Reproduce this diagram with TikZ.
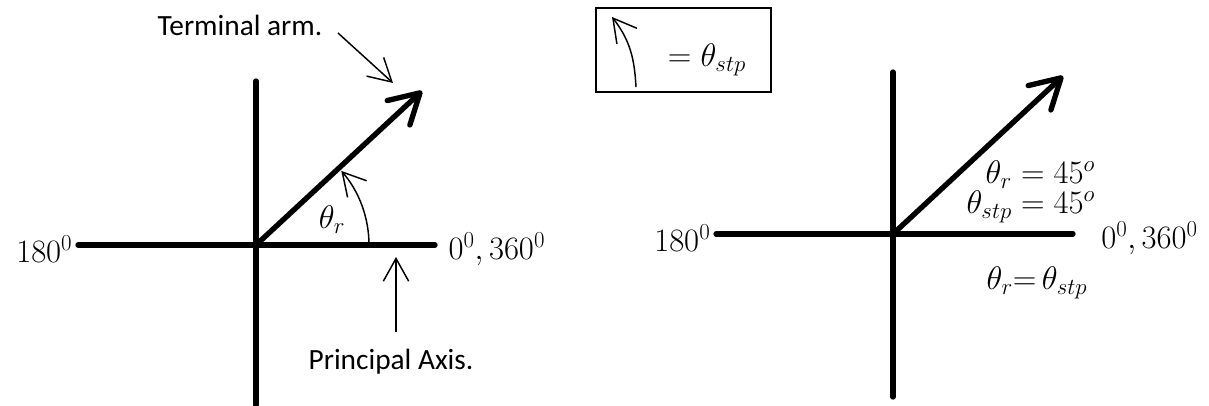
\RequirePackage{fix-cm}
\documentclass[tikz,border=0pt]{standalone}
\usepackage{amsmath, amssymb}
\usepackage[no-math]{fontspec}
\setmainfont{Carlito}
\usepackage{tikz}
\usepackage{xcolor}
\usetikzlibrary{arrows.meta, positioning, calc}

\begin{document}
\begin{tikzpicture}[x=75pt, y=75pt,
            axis/.style={line width=4pt, line cap=round},
            arm/.style={line width=4pt, line cap=round, -{Straight Barb[length=22pt, width=25pt, round]}},
            ptr/.style={line width=1.1pt, -{Straight Barb[length=17pt, width=19pt]}},
            lbl/.style={font=\fontsize{22}{26}\selectfont, inner sep=2pt},
            mlbl/.style={font=\fontsize{24.5}{28}\selectfont, inner sep=2pt}]
            \useasboundingbox (-2.56,-1.60) rectangle (9.53,2.45);
            % left diagram
            \coordinate (O1) at (0,0);
            \coordinate (W1) at (-1.78,0);
            \coordinate (E1) at (1.79,0);
            \coordinate (N1) at (0,1.64);
            \coordinate (S1) at (0,-1.60);
            \coordinate (T1) at (1.66,1.54);
            \draw[axis] (W1) -- (E1);
            \draw[axis] (N1) -- (S1);
            \draw[arm] (O1) -- (T1);
            \draw[ptr] ([shift={(0:1.13)}]O1) arc[start angle=0, end angle=41, radius=1.13];
            \node[mlbl] (thr1) at (0.76,0.25) {$\theta_r$};
            \node[mlbl, left=2pt of W1, yshift=-3pt] (deg180a) {$180^0$};
            \node[mlbl, right=8pt of E1, yshift=-3pt] (deg360a) {$0^0,360^0$};
            \node[lbl] (term) at (-0.16,2.20) {Terminal arm.};
            \coordinate (tA0) at (0.82,2.12);
            \coordinate (tA1) at (1.37,1.62);
            \draw[ptr] (tA0) -- (tA1);
            \node[lbl] (princ) at (1.35,-1.17) {Principal Axis.};
            \coordinate (pA0) at (1.40,-0.87);
            \coordinate (pA1) at (1.40,-0.12);
            \draw[ptr] (pA0) -- (pA1);
            % legend
            \node[draw, line width=1.1pt, minimum width=131pt, minimum height=63pt] (legend) at (4.275,1.95) {};
            \coordinate (lg0) at (3.80,1.58);
            \coordinate (lg1) at (3.56,2.28);
            \draw[ptr] (lg0) to[out=93, in=-52] (lg1);
            \node[mlbl] (legtxt) at (4.51,1.85) {$=\theta_{stp}$};
            % right diagram
            \coordinate (O2) at (6.37,0.11);
            \coordinate (W2) at (4.60,0.11);
            \coordinate (E2) at (8.17,0.11);
            \coordinate (N2) at (6.37,1.73);
            \coordinate (S2) at (6.37,-1.52);
            \coordinate (T2) at (8.07,1.69);
            \draw[axis] (W2) -- (E2);
            \draw[axis] (N2) -- (S2);
            \draw[arm] (O2) -- (T2);
            \node[mlbl, left=2pt of W2, yshift=-3pt] (deg180b) {$180^0$};
            \node[mlbl, right=19pt of E2, yshift=-3pt] (deg360b) {$0^0,360^0$};
            \node[mlbl, font=\fontsize{24.5}{22.5}\selectfont, align=right, anchor=east] (th45) at (8.42,0.53)
                {$\theta_r = 45^o$\\$\theta_{stp} = 45^o$};
            \node[mlbl] (theq) at (7.81,-0.38) {$\theta_r{=}\,\theta_{stp}$};
        \end{tikzpicture}
\end{document}
